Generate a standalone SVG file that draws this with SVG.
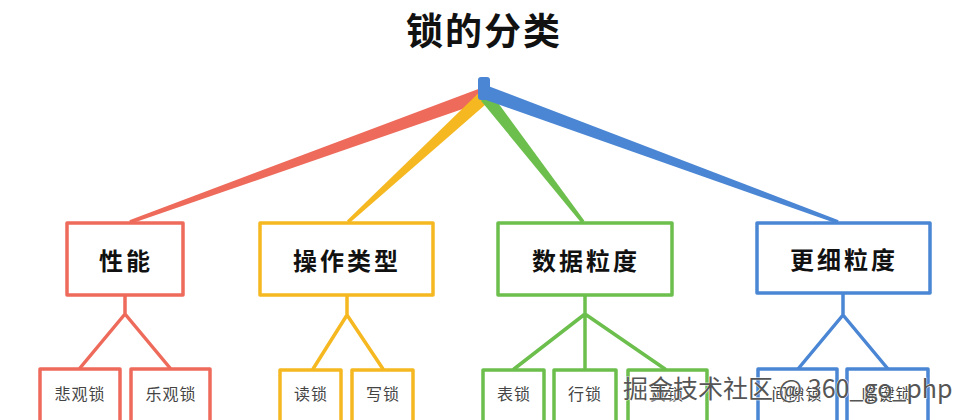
<svg xmlns="http://www.w3.org/2000/svg" width="968" height="420" viewBox="0 0 968 420">
<style>
.title{font-family:"Noto Sans CJK SC","Noto Sans",sans-serif;font-weight:700;font-size:37px;fill:#111;text-anchor:middle;letter-spacing:2px}
.lbl{font-family:"Noto Sans CJK SC","Noto Sans",sans-serif;font-weight:700;font-size:24px;fill:#111;text-anchor:middle;dominant-baseline:central;letter-spacing:3px}
.sub{font-family:"Noto Sans CJK SC","Noto Sans",sans-serif;font-size:16px;fill:#444;text-anchor:middle;dominant-baseline:central;letter-spacing:1px}
.box{fill:#fff;stroke-width:3.5;stroke-linejoin:round}
.r{stroke:#ee6a5b}.y{stroke:#f5b820}.g{stroke:#6cbf4c}.b{stroke:#4a86d4}
.ln{fill:none;stroke-width:3.5;stroke-linecap:round;stroke-linejoin:round}
.wm{font-family:"Noto Sans CJK SC","Liberation Sans",sans-serif;font-size:25px;fill:#555;stroke:#fff;stroke-width:0.8;paint-order:stroke}
</style>
<rect width="968" height="420" fill="#fff"/>
<text class="title" x="484" y="45">锁的分类</text>
<g id="connectors">
<polygon points="484.3,101.6 479.7,88.4 129.4,220.2 130.6,223.8" fill="#ee6a5b"/>
<polygon points="488.4,101.9 479.6,92.1 347,220.6 349,223.4" fill="#f5b820"/>
<polygon points="481,100.8 491,93.2 584.4,220.8 581.6,223.2" fill="#6cbf4c"/>
<polygon points="484.6,99.6 489.4,86.4 838.6,220.2 837.4,223.8" fill="#4a86d4"/>
<path class="ln r" d="M125,296 V314 M80,368 L125,314 L170,368"/>
<path class="ln y" d="M347,296 V315 M313,369 L347,315 L383,369"/>
<path class="ln g" d="M585,296 V314 M514,369 L585,314 L585,369 M585,314 L665,369"/>
<path class="ln b" d="M843,294 V315 M798,369 L843,315 L888,369"/>
</g>
<g id="root"><rect x="478" y="77" width="12" height="23" rx="3" fill="#4a86d4"/></g>
<g id="n-perf"><rect class="box r" x="67" y="223" width="116" height="72"/><text class="lbl" x="126" y="259">性能</text></g>
<g id="n-op"><rect class="box y" x="260" y="223" width="173" height="72"/><text class="lbl" x="347" y="259">操作类型</text></g>
<g id="n-data"><rect class="box g" x="498" y="223" width="174" height="72"/><text class="lbl" x="586" y="259">数据粒度</text></g>
<g id="n-fine"><rect class="box b" x="757" y="223" width="173" height="70"/><text class="lbl" x="844" y="258">更细粒度</text></g>
<g id="n-pess"><rect class="box r" x="40" y="369" width="80" height="60"/><text class="sub" x="80" y="393">悲观锁</text></g>
<g id="n-opt"><rect class="box r" x="131" y="369" width="79" height="60"/><text class="sub" x="171" y="393">乐观锁</text></g>
<g id="n-read"><rect class="box y" x="280" y="370" width="61" height="60"/><text class="sub" x="311" y="393">读锁</text></g>
<g id="n-write"><rect class="box y" x="352" y="370" width="61" height="60"/><text class="sub" x="383" y="393">写锁</text></g>
<g id="n-table"><rect class="box g" x="483" y="370" width="61" height="60"/><text class="sub" x="514" y="393">表锁</text></g>
<g id="n-row"><rect class="box g" x="554" y="370" width="62" height="60"/><text class="sub" x="585" y="393">行锁</text></g>
<g id="n-page"><rect class="box g" x="628" y="370" width="79" height="60"/><text class="sub" x="667" y="393">页锁</text></g>
<g id="n-gap"><rect class="box b" x="758" y="369" width="79" height="60"/><text class="sub" x="797" y="393">间隙锁</text></g>
<g id="n-next"><rect class="box b" x="847" y="369" width="81" height="60"/><text class="sub" x="887" y="393">临键锁</text></g>
<text class="wm" x="623" y="398">掘金技术社区 @ 360_go_php</text>
</svg>
